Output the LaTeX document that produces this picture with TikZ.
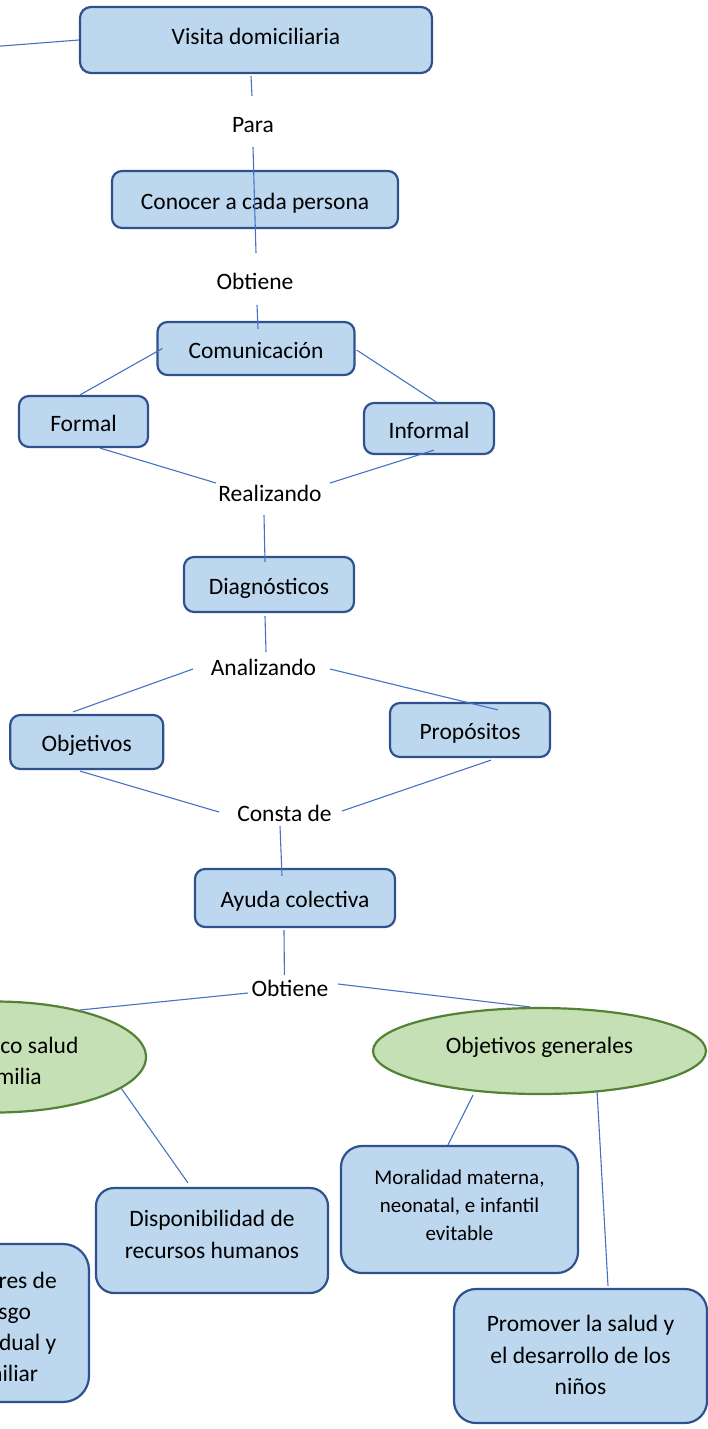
\documentclass[tikz,border=0pt]{standalone}
\usepackage{fontspec}
\setmainfont{Carlito}
\usetikzlibrary{shapes.geometric}

\begin{document}
\begin{tikzpicture}[x=1pt,y=-1pt,font=\fontsize{23.5}{31.3}\selectfont,
	caja/.style={draw=azulborde,fill=azulfondo,line width=2.2pt,rounded corners=#1,
		inner sep=0pt,align=center,text height=23pt,text depth=4pt},
	caja/.default=10pt,
	elipse/.style={ellipse,draw=verdeborde,fill=verdefondo,line width=2.2pt,
		inner sep=0pt,align=center,text height=23pt},
	etiqueta/.style={inner sep=0pt,text height=17pt,text depth=5pt},
	linea/.style={color=azullinea,line width=1.1pt}]
\definecolor{azulfondo}{HTML}{BDD7EE}
\definecolor{azulborde}{HTML}{2F528F}
\definecolor{azullinea}{HTML}{4472C4}
\definecolor{verdefondo}{HTML}{C5E0B4}
\definecolor{verdeborde}{HTML}{548235}

\useasboundingbox (0,0) rectangle (708,1429);

% Kasten oben
\node (visita) at (256,40) [caja=11pt,minimum width=352pt,minimum height=66pt,text depth=13pt]
	{Visita domiciliaria};
\coordinate (fuera) at (-2,46.3);
\node (para) at (253,126.3) [etiqueta] {Para};
\node (conocer) at (255,199.5) [caja,minimum width=286pt,minimum height=57pt]
	{Conocer a cada persona};
\node (obtA) at (255,283) [etiqueta] {Obtiene};
\node (comu) at (256,348.5) [caja,minimum width=197pt,minimum height=53pt] {Comunicación};
\node (formal) at (83.5,421.5) [caja,minimum width=129pt,minimum height=51pt] {Formal};
\node (informal) at (429,428.5) [caja,minimum width=130pt,minimum height=51pt] {Informal};
\node (reali) at (270,495) [etiqueta] {Realizando};

% Mitte
\node (diag) at (269,584.5) [caja,minimum width=170pt,minimum height=55pt] {Diagnósticos};
\node (anali) at (263.5,669) [etiqueta] {Analizando};
\node (objet) at (86.7,742) [caja,minimum width=153pt,minimum height=54pt] {Objetivos};
\node (propo) at (470,730) [caja,minimum width=160pt,minimum height=54pt] {Propósitos};
\node (consta) at (284.5,815) [etiqueta] {Consta de};
\node (ayuda) at (295,898) [caja,minimum width=200pt,minimum height=58pt] {Ayuda colectiva};
\node (obtB) at (290,990.7) [etiqueta] {Obtiene};

% unten
\node (diagsal) at (-5,1057) [elipse,minimum width=302pt,minimum height=111pt,
	text height=59.2pt,text depth=4pt]
	{Diagnóstico salud\\en familia};
\node (objgen) at (539.5,1051) [elipse,minimum width=333pt,minimum height=86pt,text depth=18.4pt]
	{Objetivos generales};
\node (disp) at (212,1240.5) [caja=18pt,minimum width=232pt,minimum height=105pt,text height=39pt]
	{Disponibilidad de\\recursos humanos};
\node (factores) at (2,1323) [caja=26pt,minimum width=174pt,minimum height=158pt,text height=121.8pt]
	{Factores de\\riesgo\\individual y\\familiar};
\node (moral) at (459.5,1209.5) [caja=21pt,minimum width=237pt,minimum height=127pt,
	text height=65.6pt,font=\fontsize{21}{28}\selectfont]
	{Moralidad materna,\\neonatal, e infantil\\evitable};
\node (promo) at (580.5,1356) [caja=22pt,minimum width=253pt,minimum height=134pt,text height=80.6pt]
	{Promover la salud y\\el desarrollo de los\\niños};

% Linien
\draw[linea] (fuera) -- (visita.west);
\draw[linea] ([xshift=-5pt,yshift=-2pt]visita.south) -- ([xshift=-1pt,yshift=30.3pt]para.center);
\draw[linea] ([yshift=-20.7pt]para.center) -- ([xshift=1pt,yshift=30pt]obtA.center);
\draw[linea] ([xshift=2pt,yshift=-22pt]obtA.center) -- ([xshift=2pt,yshift=-8pt]comu.north);
\draw[linea] ([xshift=6pt]comu.west) -- ([xshift=-3.5pt]formal.north);
\draw[linea] ([xshift=1pt,yshift=-1.5pt]comu.east) -- ([xshift=7pt]informal.north);
\draw[linea] ([xshift=16.5pt]formal.south) -- ([xshift=-54pt,yshift=12pt]reali.center);
\draw[linea] ([xshift=5pt,yshift=5pt]informal.south) -- ([xshift=60pt,yshift=12pt]reali.center);
\draw[linea] ([xshift=-6pt,yshift=-20pt]reali.center) -- ([xshift=-4pt,yshift=-6pt]diag.north);
\draw[linea] ([xshift=-4pt,yshift=-3pt]diag.south) -- ([xshift=2.5pt,yshift=17pt]anali.center);
\draw[linea] ([xshift=-70.5pt]anali.center) -- ([xshift=-13.7pt,yshift=2pt]objet.north);
\draw[linea] ([xshift=66.5pt]anali.center) -- ([xshift=28pt,yshift=-8pt]propo.north);
\draw[linea] ([xshift=-6.7pt,yshift=-1pt]objet.south) -- ([xshift=-65.5pt,yshift=3pt]consta.center);
\draw[linea] ([xshift=21pt,yshift=-2pt]propo.south) -- ([xshift=57.5pt,yshift=4pt]consta.center);
\draw[linea] ([xshift=-4.5pt,yshift=-11pt]consta.center) -- ([xshift=-13pt,yshift=-8pt]ayuda.north);
\draw[linea] ([xshift=-11pt,yshift=-2pt]ayuda.south) -- ([xshift=-5.6pt,yshift=15.7pt]obtB.center);
\draw[linea] ([xshift=-42pt,yshift=-2.3pt]obtB.center) -- (diagsal.29);
\draw[linea] ([xshift=48pt,yshift=6.7pt]obtB.center) -- ([xshift=-9.5pt]objgen.north);
\draw[linea] (diagsal.-14) -- ([xshift=-24pt,yshift=4pt]disp.north);
\draw[linea] ([xshift=-66.5pt]objgen.south) -- ([xshift=-11.5pt]moral.north);
\draw[linea] ([xshift=57.5pt,yshift=5pt]objgen.south) -- ([xshift=27.5pt,yshift=2pt]promo.north);

\end{tikzpicture}
\end{document}
